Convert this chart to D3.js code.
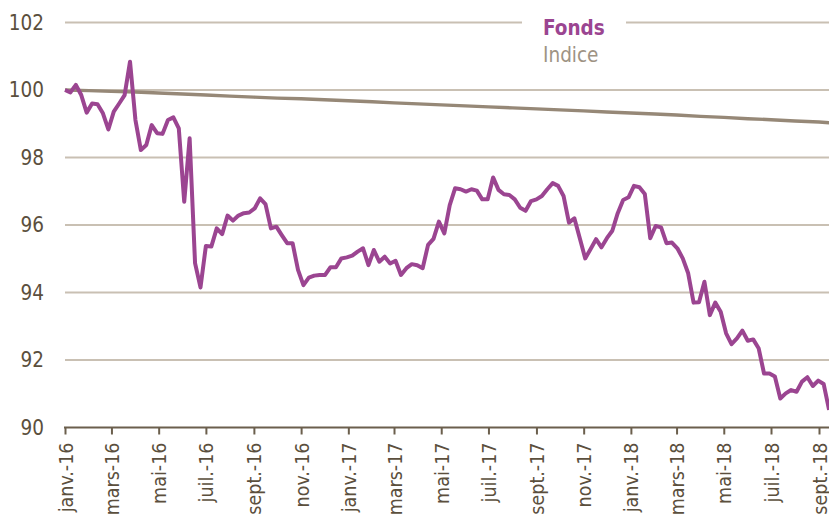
<!DOCTYPE html>
<html>
<head>
<meta charset="utf-8">
<script src="https://cdn.jsdelivr.net/npm/d3@7"></script>
<style>
  html, body { margin: 0; padding: 0; background: #fff; }
  svg { display: block; }
  text { font-family: "DejaVu Sans Condensed", "DejaVu Sans", sans-serif; }
</style>
</head>
<body>
<svg id="chart" width="829" height="516"></svg>
<script>
// ---- Data ----
const fundStart = "2016-01-01";   // weekly observations
const fundValues = [
  100.00, 99.93, 100.15, 99.85, 99.33, 99.60, 99.58, 99.31, 98.83, 99.36,
  99.60, 99.85, 100.84, 99.11, 98.22, 98.37, 98.96, 98.72, 98.70, 99.11,
  99.19, 98.86, 96.69, 98.57, 94.87, 94.15, 95.38, 95.36, 95.90, 95.73,
  96.28, 96.13, 96.28, 96.35, 96.37, 96.49, 96.79, 96.62, 95.90, 95.95,
  95.70, 95.46, 95.46, 94.67, 94.22, 94.44, 94.50, 94.52, 94.52, 94.75,
  94.75, 95.01, 95.04, 95.09, 95.21, 95.31, 94.81, 95.26, 94.91, 95.06,
  94.86, 94.94, 94.52, 94.72, 94.84, 94.81, 94.72, 95.41, 95.59, 96.10,
  95.75, 96.59, 97.09, 97.06, 96.99, 97.06, 97.02, 96.76, 96.76, 97.41,
  97.04, 96.91, 96.89, 96.76, 96.51, 96.42, 96.71, 96.76, 96.86, 97.06,
  97.24, 97.16, 96.86, 96.07, 96.20, 95.61, 95.01, 95.29, 95.58, 95.34,
  95.61, 95.83, 96.35, 96.74, 96.82, 97.16, 97.12, 96.92, 95.61, 95.97,
  95.93, 95.46, 95.48, 95.31, 95.01, 94.57, 93.70, 93.71, 94.32, 93.33,
  93.70, 93.43, 92.79, 92.47, 92.64, 92.87, 92.57, 92.61, 92.35, 91.60,
  91.60, 91.51, 90.86, 91.01, 91.11, 91.06, 91.36, 91.49, 91.23, 91.39,
  91.29, 90.52
];
const indexDates = [
  "2016-01-01","2016-02-01","2016-03-01","2016-04-01","2016-05-01","2016-06-01",
  "2016-07-01","2016-08-01","2016-09-01","2016-10-01","2016-11-01","2016-12-01",
  "2017-01-01","2017-02-01","2017-03-01","2017-04-01","2017-05-01","2017-06-01",
  "2017-07-01","2017-08-01","2017-09-01","2017-10-01","2017-11-01","2017-12-01",
  "2018-01-01","2018-02-01","2018-03-01","2018-04-01","2018-05-01","2018-06-01",
  "2018-07-01","2018-08-01","2018-09-01","2018-09-14"
];
const indexValues = [
  100.00, 99.98, 99.96, 99.94, 99.91, 99.88,
  99.85, 99.82, 99.79, 99.76, 99.74, 99.71,
  99.68, 99.65, 99.62, 99.59, 99.56, 99.53,
  99.50, 99.47, 99.44, 99.41, 99.38, 99.35,
  99.32, 99.29, 99.26, 99.22, 99.19, 99.15,
  99.12, 99.08, 99.05, 99.03
];
const tickDates = [
  "2016-01-01","2016-03-01","2016-05-01","2016-07-01","2016-09-01","2016-11-01",
  "2017-01-01","2017-03-01","2017-05-01","2017-07-01","2017-09-01","2017-11-01",
  "2018-01-01","2018-03-01","2018-05-01","2018-07-01","2018-09-01"
];
const tickLabels = [
  "janv.-16","mars-16","mai-16","juil.-16","sept.-16","nov.-16",
  "janv.-17","mars-17","mai-17","juil.-17","sept.-17","nov.-17",
  "janv.-18","mars-18","mai-18","juil.-18","sept.-18"
];
const yTicks = [90, 92, 94, 96, 98, 100, 102];
const seriesNames = ["Fonds", "Indice"];

// ---- Chart ----
const W = 829, H = 516;
const parse = d3.utcParse("%Y-%m-%d");
const start = parse(fundStart);
const fund = fundValues.map((v, i) => ({ d: d3.utcDay.offset(start, 7 * i), v }));
const index = indexValues.map((v, i) => ({ d: parse(indexDates[i]), v }));
const ticks = tickDates.map(parse);

const x = d3.scaleUtc().domain([parse("2016-01-01"), parse("2018-09-01")]).range([65, 819]);
const y = d3.scaleLinear().domain([90, 102]).range([427.5, 22.5]);

const svg = d3.select("#chart");
const textDark = "#5b4f3d";

// gridlines
svg.append("g")
  .selectAll("line")
  .data(yTicks.filter(t => t !== 90))
  .join("line")
  .attr("x1", 65).attr("x2", W)
  .attr("y1", d => y(d)).attr("y2", d => y(d))
  .attr("stroke", "#c9c0b3").attr("stroke-width", 2);

// y labels
svg.append("g")
  .selectAll("text")
  .data(yTicks)
  .join("text")
  .attr("x", 44).attr("y", d => y(d))
  .attr("dy", "0.36em")
  .attr("text-anchor", "end")
  .attr("font-size", 20.5)
  .attr("fill", textDark)
  .text(d => d);

// x axis
const xAxis = d3.axisBottom(x)
  .tickValues(ticks)
  .tickFormat((d, i) => tickLabels[i])
  .tickSizeInner(7).tickSizeOuter(0);
const gx = svg.append("g").attr("transform", `translate(0,${y(90)})`).call(xAxis);
gx.select(".domain").remove();
gx.append("line").attr("x1", 64).attr("x2", W).attr("y1", 0).attr("y2", 0)
  .attr("stroke", "#6b5f4d").attr("stroke-width", 2);
gx.selectAll(".tick line").attr("stroke", "#6b5f4d").attr("stroke-width", 2);
gx.selectAll(".tick text")
  .attr("transform", "rotate(-90)")
  .attr("x", -15).attr("y", 0).attr("dy", "0.36em")
  .attr("text-anchor", "end")
  .attr("font-size", 19.5)
  .attr("font-family", "'DejaVu Sans Condensed', 'DejaVu Sans', sans-serif")
  .attr("fill", textDark);

// legend (with white background interrupting top gridline)
svg.append("rect").attr("x", 522).attr("y", 10).attr("width", 104).attr("height", 60).attr("fill", "#fff");
svg.append("text").attr("x", 543).attr("y", 35)
  .attr("font-size", 20.5).attr("font-weight", "bold").attr("fill", "#9b4591")
  .text(seriesNames[0]);
svg.append("text").attr("x", 543).attr("y", 62)
  .attr("font-size", 20.5).attr("fill", "#9e9384")
  .text(seriesNames[1]);

// lines
const line = d3.line().x(d => x(d.d)).y(d => y(d.v));
svg.append("path").datum(index).attr("d", line)
  .attr("fill", "none").attr("stroke", "#968877").attr("stroke-width", 3.4)
  .attr("stroke-linejoin", "round");
svg.append("path").datum(fund).attr("d", line)
  .attr("fill", "none").attr("stroke", "#9b4591").attr("stroke-width", 4)
  .attr("stroke-linejoin", "round");
</script>
</body>
</html>
